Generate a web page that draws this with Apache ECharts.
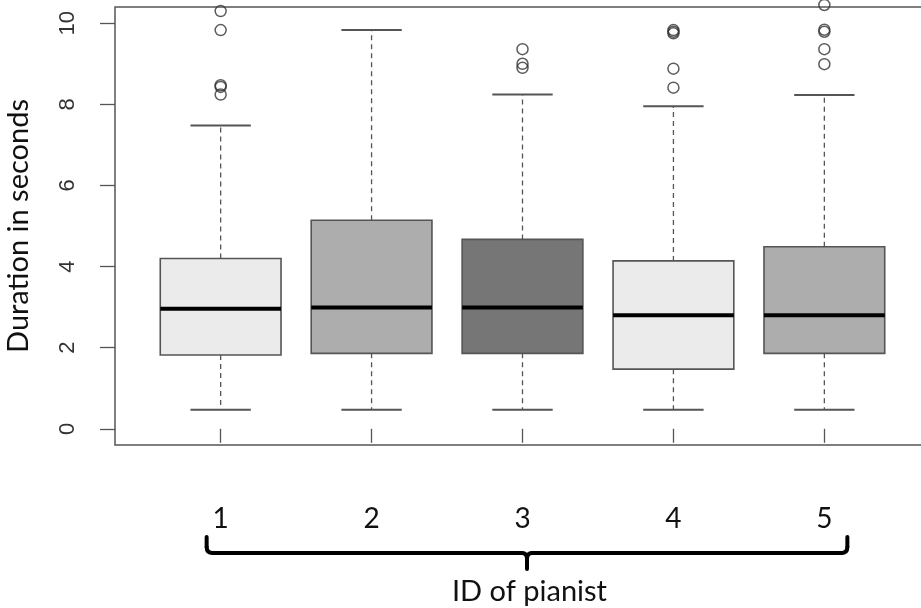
<!DOCTYPE html>
<html>
<head>
<meta charset="utf-8">
<script src="https://cdn.jsdelivr.net/npm/echarts@6/dist/echarts.min.js"></script>
<style>
html,body{margin:0;padding:0;background:#fff;}
#chart{width:921px;height:608px;}
</style>
</head>
<body>
<div id="chart"></div>
<script>
// ---- data ----
const pianists = ['1', '2', '3', '4', '5'];
const xPositions = [1, 2, 3, 4, 5];
const lowerWhisker = [0.47, 0.47, 0.47, 0.47, 0.47];
const q1 = [1.82, 1.86, 1.86, 1.47, 1.86];
const median = [2.96, 2.99, 2.99, 2.80, 2.80];
const q3 = [4.20, 5.14, 4.67, 4.14, 4.49];
const upperWhisker = [7.48, 9.83, 8.24, 7.95, 8.23];
const outliers1 = [10.30, 9.83, 8.47, 8.43, 8.24];
const outliers2 = [];
const outliers3 = [9.36, 9.00, 8.90];
const outliers4 = [9.83, 9.79, 9.75, 8.88, 8.41];
const outliers5 = [10.45, 9.84, 9.79, 9.36, 8.99];
const yTicks = [0, 2, 4, 6, 8, 10];
const boxFills = ['#ebebeb', '#adadad', '#767676', '#ebebeb', '#adadad'];

const outlierLists = [outliers1, outliers2, outliers3, outliers4, outliers5];
const boxData = xPositions.map((x, i) => [x, lowerWhisker[i], q1[i], median[i], q3[i], upperWhisker[i]]);
const outlierData = [];
outlierLists.forEach((list, i) => list.forEach(v => outlierData.push([xPositions[i], v])));

const chart = echarts.init(document.getElementById('chart'), null, {renderer: 'canvas'});

function renderBox(params, api) {
  const x = api.value(0);
  const lw = api.coord([x, api.value(1)]);
  const b1 = api.coord([x, api.value(2)]);
  const md = api.coord([x, api.value(3)]);
  const b3 = api.coord([x, api.value(4)]);
  const uw = api.coord([x, api.value(5)]);
  const w = api.size([0.8, 0])[0];
  const cx = md[0];
  const half = w / 2;
  const cap = w / 4;
  const edge = '#555555';
  return {
    type: 'group',
    children: [
      {type: 'line', shape: {x1: cx, y1: b3[1], x2: cx, y2: uw[1]},
       style: {stroke: edge, lineWidth: 1.3, lineDash: [5, 4]}},
      {type: 'line', shape: {x1: cx, y1: b1[1], x2: cx, y2: lw[1]},
       style: {stroke: edge, lineWidth: 1.3, lineDash: [5, 4]}},
      {type: 'line', shape: {x1: cx - cap, y1: uw[1], x2: cx + cap, y2: uw[1]},
       style: {stroke: edge, lineWidth: 2}},
      {type: 'line', shape: {x1: cx - cap, y1: lw[1], x2: cx + cap, y2: lw[1]},
       style: {stroke: edge, lineWidth: 2}},
      {type: 'rect', shape: {x: cx - half, y: b3[1], width: w, height: b1[1] - b3[1]},
       style: {fill: boxFills[params.dataIndex], stroke: edge, lineWidth: 1.6}},
      {type: 'line', shape: {x1: cx - half, y1: md[1], x2: cx + half, y2: md[1]},
       style: {stroke: '#000000', lineWidth: 4}}
    ]
  };
}

const option = {
  animation: false,
  backgroundColor: '#ffffff',
  grid: {
    left: 115, top: 7, width: 815, height: 438,
    show: true, borderColor: '#555555', borderWidth: 1.5, backgroundColor: 'transparent',
    outerBoundsMode: 'none', containLabel: false
  },
  xAxis: {
    type: 'value', min: 0.3, max: 5.7,
    splitLine: {show: false},
    axisLine: {show: false},
    axisTick: {show: true, length: 14, customValues: xPositions, lineStyle: {color: '#555555', width: 1.3}},
    axisLabel: {
      show: true, customValues: xPositions, margin: 60,
      formatter: v => pianists[xPositions.indexOf(v)] || '',
      fontFamily: 'Lato', fontSize: 28, color: '#111111'
    },
    name: 'ID of pianist', nameLocation: 'middle', nameGap: 132,
    nameTextStyle: {fontFamily: 'Lato', fontSize: 29, color: '#111111', padding: [0, 0, 0, 14]}
  },
  yAxis: {
    type: 'value', min: -0.4, max: 10.4,
    splitLine: {show: false},
    axisLine: {show: false},
    axisTick: {show: true, length: 15, customValues: yTicks, lineStyle: {color: '#555555', width: 1.3}},
    axisLabel: {
      show: true, customValues: yTicks, rotate: 90, margin: 36,
      fontFamily: 'Liberation Sans', fontSize: 22, color: '#333333'
    },
    name: 'Duration in seconds', nameLocation: 'middle', nameGap: 82, nameRotate: 90,
    nameTextStyle: {fontFamily: 'Lato', fontSize: 29, color: '#111111'}
  },
  series: [
    {
      type: 'custom', name: 'boxes', renderItem: renderBox, data: boxData,
      encode: {x: 0, y: [1, 2, 3, 4, 5]}, clip: false, z: 2
    },
    {
      type: 'scatter', name: 'outliers', data: outlierData, symbol: 'circle', symbolSize: 11,
      itemStyle: {color: 'rgba(0,0,0,0)', borderColor: '#333333', borderWidth: 1.5},
      clip: false, z: 3
    }
  ]
};
chart.setOption(option);

// decorative brace beneath the labels, anchored to the axis scale
const p1 = chart.convertToPixel({gridIndex: 0}, [xPositions[0], 0]);
const p5 = chart.convertToPixel({gridIndex: 0}, [xPositions[xPositions.length - 1], 0]);
const L = p1[0] - 14, R = p5[0] + 23, C = (L + R) / 2;
const yTop = 537, yLine = 553, yNub = 569, r = 6;
const braceStyle = {stroke: '#000000', lineWidth: 4, lineCap: 'round', fill: null};
function seg(x1, y1, x2, y2) {
  return {type: 'line', shape: {x1: x1, y1: y1, x2: x2, y2: y2}, style: braceStyle, z: 10};
}
function curve(x1, y1, cx, cy, x2, y2) {
  return {type: 'bezierCurve', shape: {x1: x1, y1: y1, cpx1: cx, cpy1: cy, x2: x2, y2: y2}, style: braceStyle, z: 10};
}
chart.setOption({
  graphic: [
    seg(L, yTop, L, yLine - r),
    curve(L, yLine - r, L, yLine, L + r, yLine),
    seg(L + r, yLine, C - 5, yLine),
    curve(C - 5, yLine, C, yLine, C, yLine + 6),
    seg(C, yLine + 6, C, yNub),
    curve(C + 5, yLine, C, yLine, C, yLine + 6),
    seg(C + 5, yLine, R - r, yLine),
    curve(R - r, yLine, R, yLine, R, yLine - r),
    seg(R, yLine - r, R, yTop)
  ]
});
</script>
</body>
</html>
